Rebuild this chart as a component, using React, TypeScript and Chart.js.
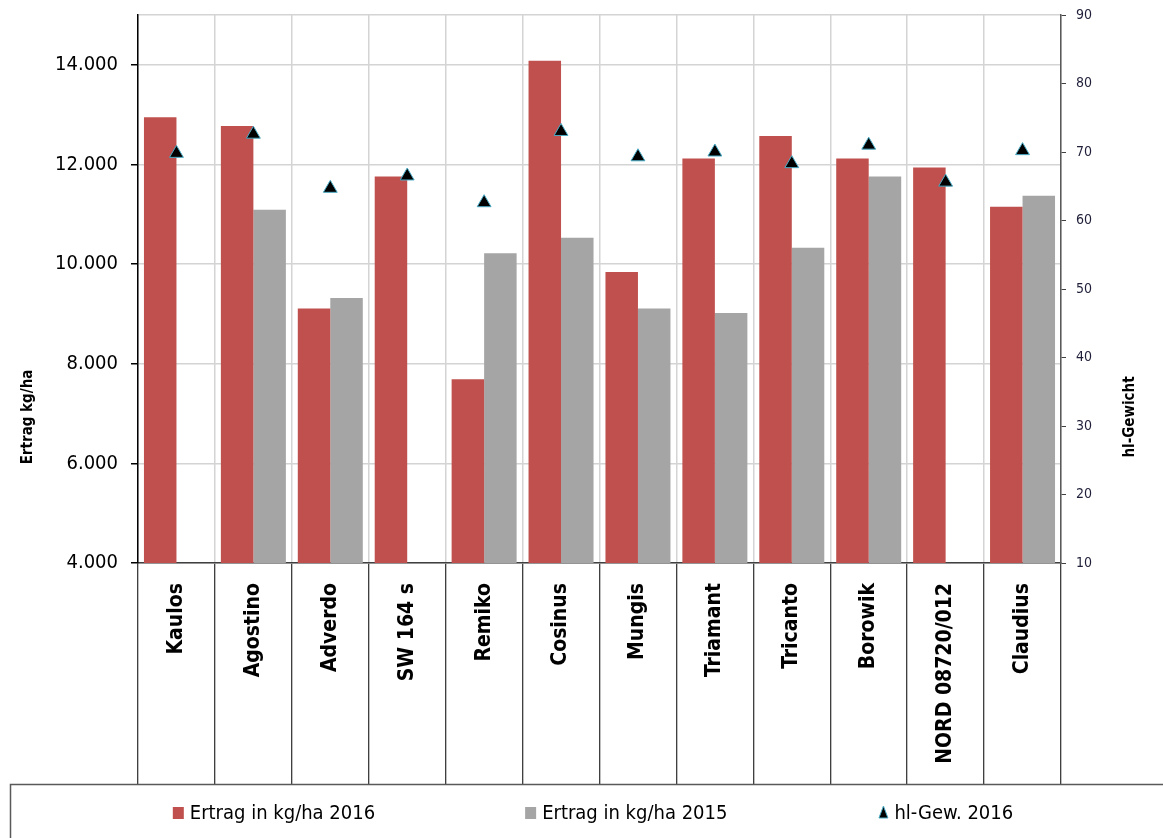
import React, { useEffect, useRef } from 'react';
import { Chart, registerables } from 'chart.js';

Chart.register(...registerables);

const categories = [
  'Kaulos', 'Agostino', 'Adverdo', 'SW 164 s', 'Remiko', 'Cosinus',
  'Mungis', 'Triamant', 'Tricanto', 'Borowik', 'NORD 08720/012', 'Claudius',
];
const ertrag2016 = [12950, 12770, 9110, 11760, 7690, 14080, 9840, 12120, 12570, 12120, 11940, 11150];
const ertrag2015 = [null, 11090, 9320, null, 10220, 10530, 9110, 9020, 10330, 11760, null, 11370];
const hlGew2016 = [69.8, 72.6, 64.7, 66.5, 62.6, 73.0, 69.3, 70.0, 68.3, 71.0, 65.6, 70.2];

const leftTickValues = [4000, 6000, 8000, 10000, 12000, 14000, 15000];
const rightTickValues = [10, 20, 30, 40, 50, 60, 70, 80, 90];

const seriesLabels = ['Ertrag in kg/ha 2016', 'Ertrag in kg/ha 2015', 'hl-Gew. 2016'];
const leftTitle = 'Ertrag kg/ha';
const rightTitle = 'hl-Gewicht';

const RED = '#C0504D';
const GRAY = '#A5A5A5';
const FONT = "'DejaVu Sans Condensed', 'DejaVu Sans', sans-serif";

const fmtDe = (v: number) => {
  const s = String(Math.round(v));
  return s.replace(/\B(?=(\d{3})+(?!\d))/g, '.');
};

const decorPlugin = {
  id: 'decor',
  afterDraw(chart: any) {
    const ctx = chart.ctx as CanvasRenderingContext2D;
    const area = chart.chartArea;
    ctx.save();
    // legend frame
    ctx.strokeStyle = '#595959';
    ctx.lineWidth = 1.5;
    ctx.strokeRect(10.5, 784.5, 1300, 200);

    // axis titles
    const midY = 417;
    ctx.fillStyle = '#000';
    ctx.font = `bold 15px ${FONT}`;
    ctx.textAlign = 'center';
    ctx.textBaseline = 'middle';
    ctx.save();
    ctx.translate(28, midY);
    ctx.rotate(-Math.PI / 2);
    ctx.fillText(leftTitle, 0, 0);
    ctx.restore();
    ctx.save();
    ctx.translate(area.right + 69, midY);
    ctx.rotate(-Math.PI / 2);
    ctx.fillText(rightTitle, 0, 0);
    ctx.restore();

    // legend items
    ctx.font = `20px ${FONT}`;
    ctx.textAlign = 'left';
    const ds = chart.data.datasets;
    const boxW = 12;
    const gapText = 5;
    const gap = 150;
    const widths = ds.map((d: any) => boxW + gapText + ctx.measureText(d.label).width);
    const total = widths.reduce((a: number, b: number) => a + b, 0) + gap * (ds.length - 1);
    let x = 593 - total / 2;
    const cy = 813;
    ds.forEach((d: any, i: number) => {
      if (d.type === 'line') {
        ctx.beginPath();
        ctx.moveTo(x + 6, cy - 7);
        ctx.lineTo(x + 10.5, cy + 5);
        ctx.lineTo(x + 1.5, cy + 5);
        ctx.closePath();
        ctx.fillStyle = '#000';
        ctx.fill();
        ctx.strokeStyle = '#4BACC6';
        ctx.lineWidth = 1;
        ctx.stroke();
      } else {
        ctx.fillStyle = d.backgroundColor;
        ctx.fillRect(x, cy - 6, 11, 12);
      }
      ctx.fillStyle = '#000';
      ctx.fillText(d.label, x + boxW + gapText, cy + 1);
      x += widths[i] + gap;
    });
    ctx.restore();
  },
};

export default function App() {
  const ref = useRef<HTMLCanvasElement | null>(null);

  useEffect(() => {
    document.body.style.margin = '0';
    document.documentElement.style.overflow = 'hidden';
    const canvas = ref.current;
    if (!canvas) return;
    const chart = new Chart(canvas, {
      type: 'bar',
      data: {
        labels: categories,
        datasets: [
          {
            type: 'bar',
            label: seriesLabels[0],
            data: ertrag2016,
            backgroundColor: RED,
            yAxisID: 'y',
            categoryPercentage: 0.845,
            barPercentage: 1,
            order: 1,
          },
          {
            type: 'bar',
            label: seriesLabels[1],
            data: ertrag2015 as any,
            backgroundColor: GRAY,
            yAxisID: 'y',
            categoryPercentage: 0.845,
            barPercentage: 1,
            order: 1,
          },
          {
            type: 'line',
            label: seriesLabels[2],
            data: hlGew2016,
            yAxisID: 'y2',
            showLine: false,
            pointStyle: 'triangle',
            pointRadius: 8,
            pointBackgroundColor: '#000',
            pointBorderColor: '#4BACC6',
            pointBorderWidth: 1,
            backgroundColor: '#000',
            borderColor: '#4BACC6',
            order: 0,
          } as any,
        ],
      },
      options: {
        responsive: false,
        animation: false,
        devicePixelRatio: 1,
        layout: { padding: { top: 15, bottom: 53, left: 0, right: 0 } },
        plugins: {
          legend: { display: false },
          tooltip: { enabled: false },
          title: { display: false },
        },
        scales: {
          x: {
            offset: true,
            grid: {
              offset: true,
              color: '#D4D4D4',
              lineWidth: 1.5,
              tickColor: '#000',
              tickLength: 222,
              tickWidth: 1,
            },
            border: { display: true, color: '#404040', width: 1.5 },
            ticks: {
              autoSkip: false,
              maxRotation: 90,
              minRotation: 90,
              padding: -202,
              color: '#000',
              font: { family: FONT, size: 21, weight: 'bold' },
            },
            afterFit: (s: any) => {
              s.height = 222;
              s.paddingLeft = 0;
              s.paddingRight = 0;
            },
          } as any,
          y: {
            position: 'left',
            min: 4000,
            max: 15000,
            afterBuildTicks: (s: any) => {
              s.ticks = leftTickValues.map((v) => ({ value: v }));
            },
            ticks: {
              padding: 13,
              color: '#000',
              font: { family: FONT, size: 20 },
              callback: (v: any) => (Number(v) % 2000 === 0 ? fmtDe(Number(v)) : ''),
            },
            grid: {
              color: '#D4D4D4',
              lineWidth: 1.5,
              tickLength: 7,
              tickColor: (c: any) => (c.tick && c.tick.value % 2000 !== 0 ? 'rgba(0,0,0,0)' : '#000'),
            },
            border: { display: true, color: '#000', width: 1.5 },
            afterFit: (s: any) => {
              s.width = 138;
              s.paddingTop = 0;
              s.paddingBottom = 0;
            },
          } as any,
          y2: {
            position: 'right',
            min: 10,
            max: 90,
            afterBuildTicks: (s: any) => {
              s.ticks = rightTickValues.map((v) => ({ value: v }));
            },
            ticks: {
              padding: 10,
              color: '#1F1F3A',
              font: { family: FONT, size: 14 },
            },
            grid: {
              drawOnChartArea: false,
              tickLength: 5,
              tickColor: '#404040',
            },
            border: { display: true, color: '#595959', width: 1.5 },
            afterFit: (s: any) => {
              s.width = 102;
              s.paddingTop = 0;
              s.paddingBottom = 0;
            },
          } as any,
        },
      },
      plugins: [decorPlugin],
    });
    return () => chart.destroy();
  }, []);

  return (
    <div style={{ width: 1163, height: 838, position: 'relative', overflow: 'hidden' }}>
      <canvas ref={ref} width={1163} height={838} />
    </div>
  );
}
